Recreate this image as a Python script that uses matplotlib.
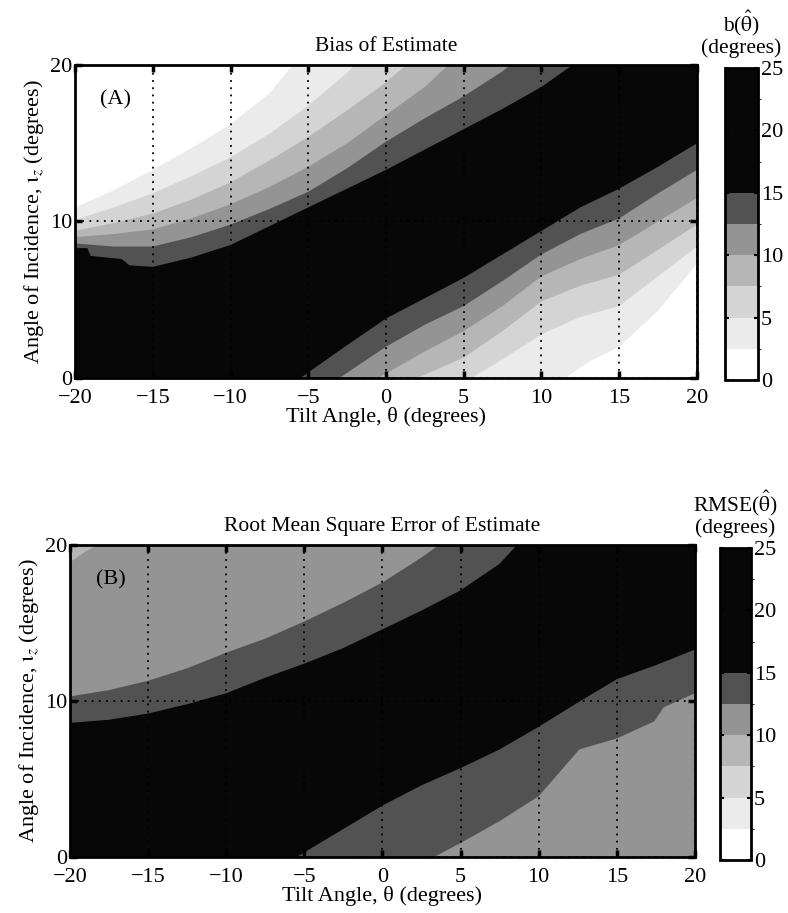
import matplotlib
matplotlib.use("Agg")
import matplotlib.pyplot as plt
from matplotlib.colors import ListedColormap, BoundaryNorm
from matplotlib.cm import ScalarMappable

plt.rcParams['font.family'] = ['Liberation Serif', 'DejaVu Serif']
plt.rcParams['mathtext.fontset'] = 'stix'

## echelle de gris commune aux deux cartes (pas de 2.5 degres)
niveaux = [0, 2.5, 5, 7.5, 10, 12.5, 15, 17.5, 20, 22.5, 25]
gris = ['#ffffff', '#ebebeb', '#d4d4d4', '#b6b6b6', '#949494', '#525252',
        '#070707', '#070707', '#070707', '#070707']
cmap = ListedColormap(gris)
norm = BoundaryNorm(niveaux, cmap.N)

lim_theta = (-20, 20)
lim_iota = (0, 20)
ticks_theta = [-20, -15, -10, -5, 0, 5, 10, 15, 20]
ticks_iota = [0, 10, 20]
ticks_barre = [0, 5, 10, 15, 20, 25]

## (A) biais : frontieres des bandes, cote haut-gauche (bord gauche -> bord haut)
biais_haut_25 = [(-20, 10.9), (-17.5, 12.0), (-15, 13.3), (-12.5, 14.7), (-10, 16.2), (-7.5, 18.2), (-6, 20)]
biais_haut_50 = [(-20, 10.1), (-17.5, 10.9), (-15, 11.8), (-12.5, 12.9), (-10, 14.1), (-7.5, 15.6),
                 (-5, 17.4), (-2.5, 19.5), (-2, 20)]
biais_haut_75 = [(-20, 9.4), (-17.5, 9.9), (-15, 10.5), (-12.5, 11.4), (-10, 12.5), (-7.5, 13.9),
                 (-5, 15.4), (-2.5, 17.1), (0, 18.9), (1.3, 20)]
biais_haut_100 = [(-20, 9.0), (-17.5, 9.2), (-15, 9.5), (-12.5, 10.2), (-10, 11.1), (-7.5, 12.2),
                  (-5, 13.5), (-2.5, 15.0), (0, 16.8), (2.5, 18.6), (4, 20)]
biais_haut_125 = [(-20, 8.6), (-17.5, 8.4), (-15, 8.4), (-12.5, 9.0), (-10, 9.8), (-7.5, 10.8),
                  (-5, 11.9), (-2.5, 13.4), (0, 15.1), (2.5, 16.6), (5, 18.0), (7.5, 19.6), (8, 20)]
biais_haut_150 = [(-20, 8.3), (-19.2, 8.3), (-19, 7.8), (-17, 7.6), (-16.5, 7.2), (-15, 7.1),
                  (-12.5, 7.7), (-10, 8.5), (-7.5, 9.7), (-5, 10.9), (-2.5, 12.1), (0, 13.3),
                  (2.5, 14.6), (5, 15.9), (7.5, 17.2), (10, 18.6), (12, 20)]
## cote bas-droite (bord bas -> bord droit)
biais_bas_150 = [(-5.5, 0), (-2.5, 2.1), (0, 3.8), (2.5, 5.1), (5, 6.4), (7.5, 7.9), (10, 9.4),
                 (12.5, 10.9), (15, 12.1), (17.5, 13.5), (20, 15.0)]
biais_bas_125 = [(-3, 0), (0, 2.0), (2.5, 3.4), (5, 4.6), (7.5, 6.2), (10, 7.9), (12.5, 9.2),
                 (15, 10.2), (17.5, 11.8), (20, 13.3)]
biais_bas_100 = [(-0.5, 0), (2.5, 1.7), (5, 3.0), (7.5, 4.6), (10, 6.5), (12.5, 7.6), (15, 8.5),
                 (17.5, 10.0), (20, 11.5)]
biais_bas_75 = [(2, 0), (5, 1.3), (7.5, 3.0), (10, 4.9), (12.5, 5.9), (15, 6.6), (17.5, 8.2), (20, 9.8)]
biais_bas_50 = [(5.5, 0), (7.5, 1.2), (10, 2.8), (12.5, 3.9), (15, 4.6), (17.5, 6.5), (20, 8.4)]
biais_bas_25 = [(11.5, 0), (13, 1.0), (15, 2.0), (17.5, 4.3), (20, 7.3)]

## (B) RMSE
rmse_haut_100 = [(-20, 18.9), (-19, 19.6), (-18.2, 20)]
rmse_haut_125 = [(-20, 10.3), (-17.5, 10.7), (-15, 11.3), (-12.5, 12.1), (-10, 13.1), (-7.5, 14.0),
                 (-5, 15.1), (-2.5, 16.3), (0, 17.6), (2.5, 19.2), (3.6, 20)]
rmse_haut_150 = [(-20, 8.6), (-17.5, 8.8), (-15, 9.2), (-12.5, 9.8), (-10, 10.5), (-7.5, 11.5),
                 (-5, 12.4), (-2.5, 13.4), (0, 14.6), (2.5, 15.8), (5, 17.1), (7.5, 18.8), (8.6, 20)]
rmse_bas_150 = [(-5.5, 0), (-2.5, 1.8), (0, 3.3), (2.5, 4.6), (5, 5.7), (7.5, 6.9), (10, 8.35),
                (12.5, 9.9), (15, 11.4), (17.5, 12.3), (20, 13.3)]
rmse_bas_125 = [(3.3, 0), (5, 0.9), (7.5, 2.3), (10, 3.9), (11.3, 5.4), (12.6, 6.9), (15, 7.6),
                (17.4, 8.7), (18, 9.6), (20, 10.5)]


def couleur_sous(niveau):
    """couleur de la bande juste en dessous du niveau"""
    return cmap(norm(niveau - 1.25))


def trace_bandes(ax, bords_haut, bords_bas):
    """peint les bandes : fond noir puis zones au-dela de chaque frontiere"""
    ax.set_facecolor(cmap(norm(20)))
    for niveau, bord in bords_haut:
        xs = [p[0] for p in bord] + [lim_theta[0]]
        ys = [p[1] for p in bord] + [lim_iota[1]]
        ax.fill(xs, ys, color=couleur_sous(niveau), lw=0, zorder=1)
    for niveau, bord in bords_bas:
        xs = [p[0] for p in bord] + [lim_theta[1]]
        ys = [p[1] for p in bord] + [lim_iota[0]]
        ax.fill(xs, ys, color=couleur_sous(niveau), lw=0, zorder=1)


def habille(ax, cax, titre, lettre, titre_barre):
    ax.set_xlim(lim_theta)
    ax.set_ylim(lim_iota)
    ax.set_xticks(ticks_theta)
    ax.set_yticks(ticks_iota)
    ax.set_xticklabels([str(t).replace('-', '\u2212') for t in ticks_theta])
    ax.grid(True, linestyle=(0, (1, 3)), color='k', linewidth=1.3)
    ax.tick_params(direction='in', length=5, width=2.5, labelsize=16, top=True, right=True)
    ax.tick_params(axis='x', pad=8)
    ax.tick_params(axis='y', pad=2)
    for s in ax.spines.values():
        s.set_linewidth(2)
    ax.set_title(titre, fontsize=15.5, pad=10)
    ax.set_xlabel('Tilt Angle, \u03b8 (degrees)', fontsize=16, labelpad=-1)
    ax.set_ylabel(r'Angle of Incidence, $\mathrm{\iota}_z$ (degrees)', fontsize=16, labelpad=3)
    ax.text(-17.4, 17.8, lettre, fontsize=16, ha='center', va='center')

    cb = plt.colorbar(ScalarMappable(norm=norm, cmap=cmap), cax=cax, ticks=ticks_barre)
    cb.outline.set_linewidth(2)
    cax.tick_params(direction='in', length=3, width=1.5, labelsize=16, left=True, right=True, pad=2)
    cax.set_title(titre_barre, fontsize=15.5, pad=11, linespacing=1.0)


fig = plt.figure(figsize=(7.88, 9.13), dpi=100)
ax1 = fig.add_axes([0.0952, 0.586, 0.7893, 0.3428])
cax1 = fig.add_axes([0.920, 0.5838, 0.0419, 0.3417])
ax2 = fig.add_axes([0.0888, 0.0613, 0.7931, 0.3417])
cax2 = fig.add_axes([0.9137, 0.058, 0.0393, 0.3418])

trace_bandes(ax1,
             [(15, biais_haut_150), (12.5, biais_haut_125), (10, biais_haut_100),
              (7.5, biais_haut_75), (5, biais_haut_50), (2.5, biais_haut_25)],
             [(15, biais_bas_150), (12.5, biais_bas_125), (10, biais_bas_100),
              (7.5, biais_bas_75), (5, biais_bas_50), (2.5, biais_bas_25)])
habille(ax1, cax1, 'Bias of Estimate', '(A)',
        'b($\\hat{\\mathrm{\\theta}}$)\n(degrees)')

trace_bandes(ax2,
             [(15, rmse_haut_150), (12.5, rmse_haut_125), (10, rmse_haut_100)],
             [(15, rmse_bas_150), (12.5, rmse_bas_125)])
habille(ax2, cax2, 'Root Mean Square Error of Estimate', '(B)',
        'RMSE($\\hat{\\mathrm{\\theta}}$)\n(degrees)')

fig.savefig('out.png', dpi=100)
